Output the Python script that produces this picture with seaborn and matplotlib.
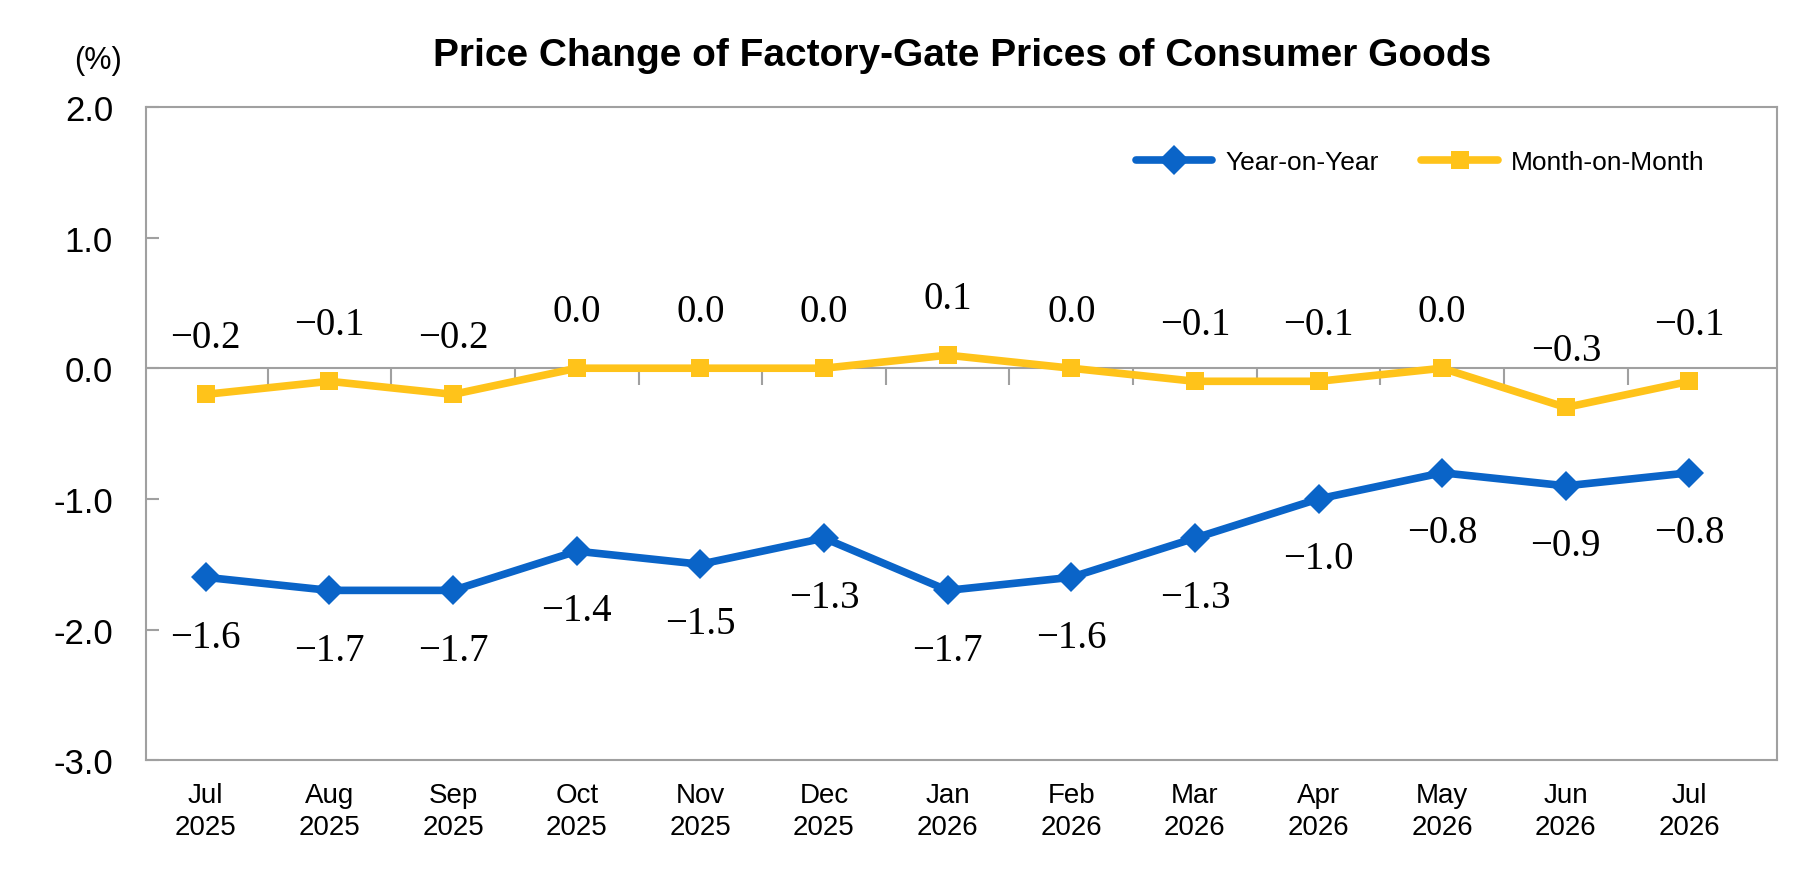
import numpy as np
import pandas as pd
import seaborn as sns
import matplotlib.pyplot as plt

# datos del grafico
months = ["Jul\n2025", "Aug\n2025", "Sep\n2025", "Oct\n2025", "Nov\n2025", "Dec\n2025",
          "Jan\n2026", "Feb\n2026", "Mar\n2026", "Apr\n2026", "May\n2026", "Jun\n2026", "Jul\n2026"]
yoy = [-1.6, -1.7, -1.7, -1.4, -1.5, -1.3, -1.7, -1.6, -1.3, -1.0, -0.8, -0.9, -0.8]
mom = [-0.2, -0.1, -0.2, 0.0, 0.0, 0.0, 0.1, 0.0, -0.1, -0.1, 0.0, -0.3, -0.1]
yticks = [2.0, 1.0, 0.0, -1.0, -2.0, -3.0]

sns.set_theme(style="white")
plt.rcParams['font.family'] = ['Liberation Sans Narrow', 'Liberation Sans', 'DejaVu Sans']
plt.rcParams['text.color'] = 'black'
plt.rcParams['xtick.labelcolor'] = 'black'
plt.rcParams['ytick.labelcolor'] = 'black'

blue = "#0A64C8"
yellow = "#FFC31A"
grey = "#A0A0A0"

x = np.arange(len(months))
df = pd.DataFrame({"x": x, "yoy": yoy, "mom": mom})

fig = plt.figure(figsize=(18.08, 8.70), dpi=100)
ax = fig.add_axes([0.081, 0.125, 0.902, 0.751])

sns.lineplot(data=df, x="x", y="yoy", ax=ax, color=blue, lw=5.5, marker="D", ms=15,
             markeredgewidth=0, label="Year-on-Year", zorder=4)
sns.lineplot(data=df, x="x", y="mom", ax=ax, color=yellow, lw=5.5, marker="s", ms=13,
             markeredgewidth=0, label="Month-on-Month", zorder=4)

# etiquetas de valores
for xi, v in zip(x, yoy):
    ax.annotate(f"{v:.1f}".replace("-", "\u2212"), (xi, v), xytext=(0, -43),
                textcoords="offset points", ha="center", va="center",
                fontsize=28, family="Liberation Serif", color="black")
for xi, v in zip(x, mom):
    ax.annotate(f"{v:.1f}".replace("-", "\u2212"), (xi, v), xytext=(0, 41),
                textcoords="offset points", ha="center", va="center",
                fontsize=28, family="Liberation Serif", color="black")

ax.set_xlim(-0.48, 12.71)
ax.set_ylim(-3.0, 2.0)
ax.set_yticks(yticks)
ax.set_yticklabels([f"{t:.1f}" for t in yticks], fontsize=25)
ax.set_xticks(x)
ax.set_xticklabels(months, fontsize=20, linespacing=1.3)
ax.tick_params(axis="x", length=0, pad=16)
ax.tick_params(axis="y", direction="in", length=9, color=grey, width=1.5, pad=24, left=True)
ax.set_xlabel("")
ax.set_ylabel("")

for s in ax.spines.values():
    s.set_color(grey)
    s.set_linewidth(1.5)

# linea del cero con marcas entre categorias
ax.axhline(0, color=grey, lw=1.5, zorder=2)
zero_axis = ax.secondary_xaxis(3.0 / 5.0)
zero_axis.set_xticks(x[:-1] + 0.5)
zero_axis.set_xticklabels([])
zero_axis.tick_params(direction="in", length=12, color=grey, width=1.5,
                      labelbottom=False, labeltop=False)
zero_axis.spines["bottom"].set_visible(False)
zero_axis.spines["top"].set_visible(False)

leg = ax.legend(loc="upper right", bbox_to_anchor=(0.97, 0.97), ncol=2, frameon=False,
                fontsize=19, handlelength=2.9, columnspacing=1.6, handletextpad=0.5)

fig.text(0.054, 0.93, "(%)", fontsize=22, ha="center", va="center")
ax.set_title("Price Change of Factory-Gate Prices of Consumer Goods", fontsize=28,
             fontweight="bold", pad=30)

fig.savefig("out.png", dpi=100, facecolor="white")
